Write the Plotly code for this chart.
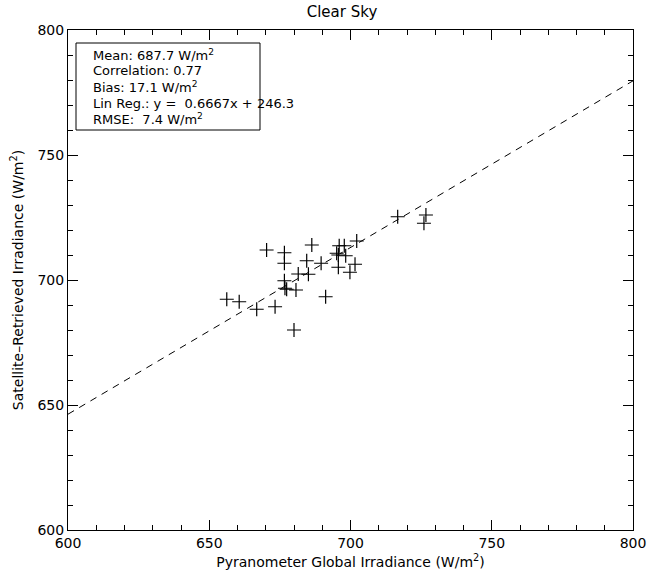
import plotly.graph_objects as go

# Data
pyranometer = [670.3, 676.6, 686.3, 676.6, 684.5, 689.6, 695.1, 695.7, 697.8, 696.0,
               695.7, 681.5, 685.1, 676.6, 676.8, 677.4, 680.7, 656.2, 660.6, 666.8,
               673.3, 691.2, 680.0, 716.7, 726.7, 726.0, 702.2, 698.3, 701.6, 699.8]
satellite = [712.0, 710.9, 714.0, 706.7, 707.7, 706.7, 710.7, 710.0, 713.7, 713.7,
             705.1, 702.4, 702.3, 699.7, 696.7, 696.3, 696.0, 692.3, 691.3, 688.3,
             689.3, 693.3, 680.0, 725.3, 726.0, 722.7, 715.6, 709.7, 706.3, 703.1]
reg_slope = 0.6667
reg_intercept = 246.3
reg_x = [600, 800]
reg_y = [reg_slope * v + reg_intercept for v in reg_x]

stats_lines = [
    "Mean: 687.7 W/m<sup>2</sup>",
    "Correlation: 0.77",
    "Bias: 17.1 W/m<sup>2</sup>",
    "Lin Reg.: y =\u00a0\u00a00.6667x + 246.3",
    "RMSE:\u00a0\u00a07.4 W/m<sup>2</sup>",
]

FONT = "DejaVu Sans"

fig = go.Figure()
fig.add_trace(go.Scatter(x=reg_x, y=reg_y, mode="lines",
                         line=dict(color="black", width=1, dash="7px,6px"),
                         hoverinfo="skip", showlegend=False))
fig.add_trace(go.Scatter(x=pyranometer, y=satellite, mode="markers",
                         marker=dict(symbol="cross-thin", size=10,
                                     line=dict(width=1.2, color="black"),
                                     color="black"),
                         showlegend=False))

axis_common = dict(
    range=[600, 800], dtick=50, ticks="inside", ticklen=10, tickwidth=1,
    tickcolor="black", showline=True, linecolor="black", linewidth=1,
    mirror="allticks", showgrid=False, zeroline=False, automargin=False,
    tickfont=dict(family=FONT, size=14, color="black"),
    minor=dict(dtick=10, ticks="inside", ticklen=5, tickcolor="black", showgrid=False),
)

fig.update_layout(
    width=647, height=581,
    margin=dict(l=68, r=14, t=30, b=51),
    paper_bgcolor="white", plot_bgcolor="white",
    font=dict(family=FONT, size=14, color="black"),
    title=dict(text="Clear Sky", x=(342) / 647, xanchor="center", y=0.98, yanchor="middle",
               font=dict(family=FONT, size=15, color="black"), automargin=False),
    xaxis=dict(axis_common,
               title=dict(text="Pyranometer Global Irradiance (W/m<sup>2</sup>)",
                          standoff=7, font=dict(family=FONT, size=14))),
    yaxis=dict(axis_common,
               title=dict(text="Satellite\u2013Retrieved Irradiance (W/m<sup>2</sup>)",
                          standoff=10, font=dict(family=FONT, size=14))),
)

# Stats box
fig.add_shape(type="rect", xref="paper", yref="paper",
              x0=(76 - 68) / 565, x1=(260 - 68) / 565,
              y0=(530 - 130) / 500, y1=(530 - 43) / 500,
              line=dict(color="black", width=1), fillcolor="rgba(0,0,0,0)")
for i, t in enumerate(stats_lines):
    fig.add_annotation(text=t, xref="paper", yref="paper",
                       x=(91 - 68) / 565, y=(530 - (55 + 16 * i)) / 500,
                       xanchor="left", yanchor="middle", showarrow=False,
                       font=dict(family=FONT, size=13, color="black"))

fig.write_html("out.html")
